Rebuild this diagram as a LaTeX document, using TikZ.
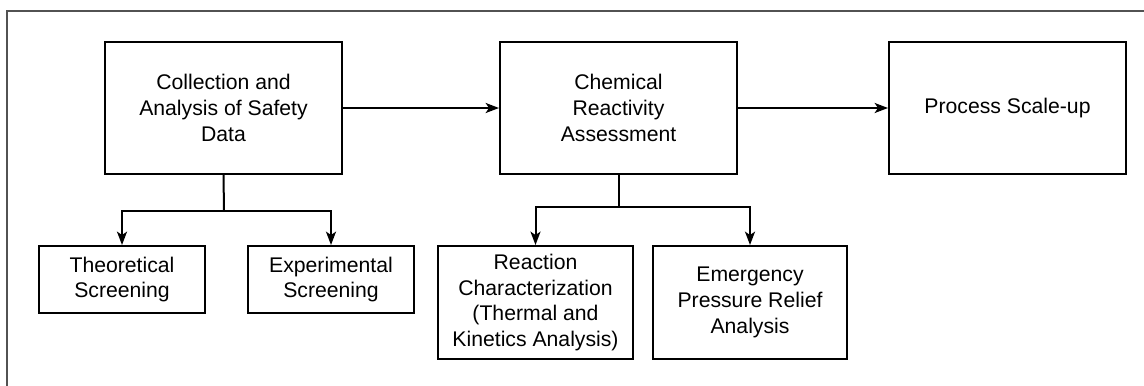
\documentclass[tikz,border=0pt]{standalone}
\usepackage{fontspec}
\setmainfont{Liberation Sans}
\usetikzlibrary{arrows.meta}
\tikzset{
  mainbox/.style={rectangle,draw,line width=1.5pt,align=center,minimum width=177.75pt,minimum height=99pt,inner sep=0pt},
  subbox/.style={rectangle,draw,line width=1.5pt,align=center,inner sep=0pt},
  link/.style={line width=1.5pt},
  arr/.style={line width=1.5pt,-{Stealth[length=10pt,width=7.5pt,inset=2.5pt]}},
  frameline/.style={line width=1.5pt,draw=black!68}
}

\begin{document}
\begin{tikzpicture}[x=0.75pt,y=-0.75pt,every node/.style={font=\fontsize{15.9}{19.3}\selectfont}]
  \useasboundingbox (0,0) rectangle (1144,385);
  \draw[frameline] (7,386) |- (1145,11);

  \node[mainbox] (coll) at (223.5,108) {Collection and\\Analysis of Safety\\Data};
  \node[mainbox] (chem) at (618.5,108) {Chemical\\Reactivity\\Assessment};
  \node[mainbox] (scale) at (1007.5,108) {Process Scale-up};
  \draw[arr] (coll) -- (chem);
  \draw[arr] (chem) -- (scale);

  \node[subbox,minimum width=124.5pt,minimum height=50.25pt] (theo) at (122,279.5) {Theoretical\\Screening};
  \node[subbox,minimum width=124.5pt,minimum height=50.25pt] (expt) at (331,279.5) {Experimental\\Screening};
  \coordinate (split1) at (224,211);
  \draw[link] (coll.south) -- (split1);
  \draw[arr] (split1) -| (theo.north);
  \draw[arr] (split1) -| (expt.north);

  \node[subbox,minimum width=146.25pt,minimum height=84.75pt] (react) at (535.5,302.5) {Reaction\\Characterization\\(Thermal and\\Kinetics Analysis)};
  \node[subbox,minimum width=145.5pt,minimum height=84.75pt] (relief) at (750,302.5) {Emergency\\Pressure Relief\\Analysis};
  \coordinate (split2) at (618.5,207);
  \draw[link] (chem.south) -- (split2);
  \draw[arr] (split2) -| (react.north);
  \draw[arr] (split2) -| (relief.north);
\end{tikzpicture}
\end{document}
